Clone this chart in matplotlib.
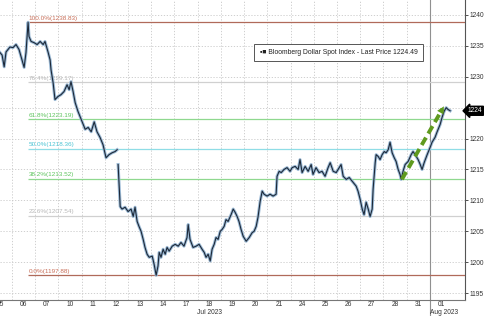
import numpy as np
import matplotlib.pyplot as plt

# Bloomberg Dollar Spot Index, intraday
# position in trading days (0 = Jul 05 open) and index level
t_pos = [0.48, 0.57, 0.66, 0.74, 0.91, 1.04, 1.17, 1.30, 1.43, 1.52, 1.60, 1.69,
         1.73, 1.82, 1.95, 2.08, 2.21, 2.34, 2.42, 2.55, 2.64, 2.68, 2.77, 2.85,
         2.98, 3.11, 3.24, 3.37, 3.46, 3.54, 3.63, 3.72, 3.84, 4.02, 4.15, 4.28,
         4.41, 4.54, 4.66, 4.79, 4.92, 5.05, 5.18, 5.31, 5.44, 5.53,
         5.55,
         5.57, 5.61, 5.66, 5.74, 5.87, 6.00, 6.13, 6.22, 6.30, 6.39, 6.47, 6.56,
         6.65, 6.73, 6.82, 6.91, 7.04, 7.12, 7.21, 7.29, 7.34, 7.42, 7.51, 7.60,
         7.68, 7.77, 7.90, 8.03, 8.16, 8.28, 8.41, 8.54, 8.59, 8.67, 8.80, 8.93,
         9.06, 9.19, 9.28, 9.36, 9.45, 9.54, 9.62, 9.71, 9.79, 9.88, 9.97, 10.05,
         10.14, 10.22, 10.31, 10.44, 10.53, 10.61, 10.70, 10.78, 10.87, 10.96, 11.09, 11.22,
         11.35, 11.43, 11.52, 11.60, 11.69, 11.78, 11.86, 11.99, 12.12, 12.25, 12.38, 12.42,
         12.51, 12.60, 12.72, 12.85, 12.98, 13.07, 13.20, 13.33, 13.41, 13.50, 13.63, 13.76,
         13.89, 13.97, 14.10, 14.23, 14.36, 14.49, 14.62, 14.71, 14.84, 14.97, 15.10, 15.18,
         15.27, 15.40, 15.53, 15.66, 15.83, 15.91, 16.00, 16.09, 16.17, 16.26, 16.35, 16.43,
         16.52, 16.56, 16.65, 16.69, 16.78, 16.86, 16.95, 17.04, 17.12, 17.21, 17.29, 17.38,
         17.47, 17.55, 17.64, 17.72, 17.77, 17.85, 17.94, 18.07, 18.20, 18.28, 18.37, 18.50,
         18.59, 18.67, 18.76, 18.89, 19.02, 19.10, 19.23, 19.32, 19.45, 19.53, 19.62, 19.71,
         19.79, 19.88]
price = [1233.9, 1233.5, 1231.6, 1234.0, 1234.8, 1234.7, 1235.2, 1234.4, 1232.7, 1231.5, 1233.9, 1238.8,
         1236.5, 1235.7, 1235.5, 1235.2, 1235.7, 1235.2, 1235.7, 1234.0, 1232.7, 1231.1, 1229.0, 1226.3,
         1226.8, 1227.1, 1227.6, 1228.7, 1227.9, 1229.2, 1227.6, 1225.8, 1224.4, 1222.7, 1221.5, 1221.8,
         1221.1, 1222.7, 1221.1, 1220.2, 1219.0, 1216.9, 1217.4, 1217.7, 1217.9, 1218.2,
         np.nan,
         1215.8, 1212.9, 1209.0, 1208.6, 1208.9, 1208.2, 1208.6, 1207.4, 1208.9, 1206.6, 1205.8, 1205.0,
         1203.7, 1202.4, 1201.3, 1200.8, 1201.0, 1199.7, 1197.9, 1199.4, 1201.6, 1200.8, 1202.1, 1201.3,
         1202.4, 1201.8, 1202.6, 1202.9, 1202.6, 1203.2, 1202.6, 1204.0, 1206.1, 1203.7, 1202.4, 1202.6,
         1202.9, 1202.1, 1201.6, 1200.8, 1201.3, 1200.2, 1202.1, 1202.9, 1204.0, 1203.7, 1205.0, 1205.3,
         1205.8, 1206.9, 1206.6, 1207.7, 1208.6, 1208.1, 1207.4, 1206.6, 1205.3, 1204.2, 1203.4, 1204.0,
         1204.8, 1205.0, 1205.8, 1207.3, 1209.8, 1211.5, 1211.0, 1210.7, 1211.0, 1210.7, 1211.0, 1213.9,
         1214.7, 1214.5, 1215.0, 1215.3, 1214.7, 1215.3, 1215.5, 1215.0, 1216.6, 1214.5, 1215.5, 1214.7,
         1215.8, 1214.2, 1215.3, 1214.5, 1214.7, 1213.9, 1215.3, 1216.1, 1214.7, 1214.5, 1215.3, 1215.8,
         1213.9, 1213.4, 1213.7, 1213.1, 1212.3, 1211.5, 1210.2, 1208.6, 1207.7, 1209.7, 1208.6, 1207.4,
         1208.6, 1211.8, 1216.1, 1217.4, 1217.1, 1216.6, 1217.4, 1217.9, 1217.7, 1218.2, 1219.4, 1217.7,
         1216.9, 1216.3, 1215.0, 1214.2, 1213.4, 1214.7, 1215.8, 1216.3, 1217.4, 1217.9, 1217.4, 1216.6,
         1215.8, 1215.0, 1216.1, 1217.4, 1218.6, 1219.4, 1220.2, 1221.1, 1222.3, 1223.4, 1224.4, 1225.0,
         1224.7, 1224.49]

day_labels = ['05', '06', '07', '10', '11', '12', '13', '14', '17', '18',
              '19', '20', '21', '24', '25', '26', '27', '28', '31', '01']
month_labels = ['Jul 2023', 'Aug 2023']

fib_pct = ['100.0%', '76.4%', '61.8%', '50.0%', '38.2%', '23.6%', '0.0%']
fib_val = [1238.83, 1229.17, 1223.19, 1218.36, 1213.52, 1207.54, 1197.88]
fib_line_col = ['#b06a5a', '#d0d0d0', '#8fd88f', '#8fdde6', '#8fd88f', '#d0d0d0', '#b06a5a']
fib_text_col = ['#c86e58', '#b8b8b8', '#5fc45f', '#4cc4d4', '#5fc45f', '#b8b8b8', '#c86e58']

last_price = 1224.49
arrow_from = (17.80, 1213.4)
arrow_to = (19.67, 1225.6)

FONT = 'Liberation Sans'

fig = plt.figure(figsize=(4.85, 3.16), dpi=100)
ax = fig.add_axes([0, 16 / 316, 465 / 485, 300 / 316])
xmin, xmax = 0.48, 20.52
ax.set_xlim(xmin, xmax)
ax.set_ylim(1193.9, 1242.4)

# grid
for k in range(1, 19):
    ax.axvline(k, color='#c8c8c8', lw=0.6, ls=(0, (1.5, 2)), zorder=0)
ax.set_yticks(np.arange(1195, 1241, 5))
for v in np.arange(1195, 1241, 5):
    ax.axhline(v, color='#c8c8c8', lw=0.6, ls=(0, (1.5, 2)), zorder=0)

# month separator
ax.axvline(19, color='#909090', lw=0.8, zorder=1)
ax.plot([19, 19], [0, -0.06], transform=ax.get_xaxis_transform(),
        color='#909090', lw=0.8, clip_on=False)

# fibonacci retracement levels
for p, v, lc, tc in zip(fib_pct, fib_val, fib_line_col, fib_text_col):
    ax.hlines(v, 1.69, xmax, color=lc, lw=0.9, zorder=2)
    ax.text(1.72, v + 0.2, f'{p}({v:.2f})', color=tc, fontsize=4.6,
            family=FONT, va='bottom', ha='left', zorder=3)

# price line
ax.plot(t_pos, price, color='#9dbbd6', lw=2.2, zorder=4, solid_joinstyle='round')
ax.plot(t_pos, price, color='#1c2838', lw=0.8, zorder=5)

# trend arrow
ax.plot([arrow_from[0], arrow_to[0] - 0.12], [arrow_from[1], arrow_to[1] - 0.8],
        color='#5f9a1e', lw=2.8, ls=(0, (2.2, 1.2)), zorder=6)
ax.annotate('', xy=arrow_to, xytext=(arrow_to[0] - 0.35, arrow_to[1] - 2.3),
            arrowprops=dict(arrowstyle='-|>', color='#5f9a1e', lw=0,
                            mutation_scale=13), zorder=6)

# legend box
ax.text(0.728, 0.825, '\u25aa\u25a0 Bloomberg Dollar Spot Index - Last Price 1224.49',
        transform=ax.transAxes, fontsize=4.9, family=FONT,
        ha='center', va='center', color='#222222',
        bbox=dict(boxstyle='square,pad=0.75', fc='white', ec='#555555', lw=0.7))

# axes styling
for s in ['top', 'left']:
    ax.spines[s].set_visible(False)
ax.spines['right'].set_color('#555555')
ax.spines['right'].set_linewidth(0.8)
ax.spines['bottom'].set_color('#777777')
ax.spines['bottom'].set_linewidth(0.8)
ax.yaxis.tick_right()
ytl = [str(v) if v != 1225 else '' for v in range(1195, 1241, 5)]
ax.set_yticklabels(ytl)
ax.tick_params(axis='y', length=2.2, width=0.6, pad=1.0, labelsize=4.8,
               colors='#333333')
ax.set_xticks([k + 0.5 for k in range(len(day_labels))])
ax.set_xticklabels(day_labels)
ax.tick_params(axis='x', length=0, pad=0.6, labelsize=4.8, colors='#333333')
for lab in ax.get_xticklabels() + ax.get_yticklabels():
    lab.set_family(FONT)

ax.text(9.5, -0.04, month_labels[0], transform=ax.get_xaxis_transform(),
        fontsize=4.8, family=FONT, ha='center', va='center', color='#333333')
ax.text(19.6, -0.04, month_labels[1], transform=ax.get_xaxis_transform(),
        fontsize=4.8, family=FONT, ha='center', va='center', color='#333333')

# last price tag
ax.text(xmax + 0.12, last_price, '1224', fontsize=4.8, family=FONT,
        color='white', ha='left', va='center', clip_on=False,
        bbox=dict(boxstyle='larrow,pad=0.15', fc='black', ec='black'))

fig.savefig('out.png', dpi=100)
